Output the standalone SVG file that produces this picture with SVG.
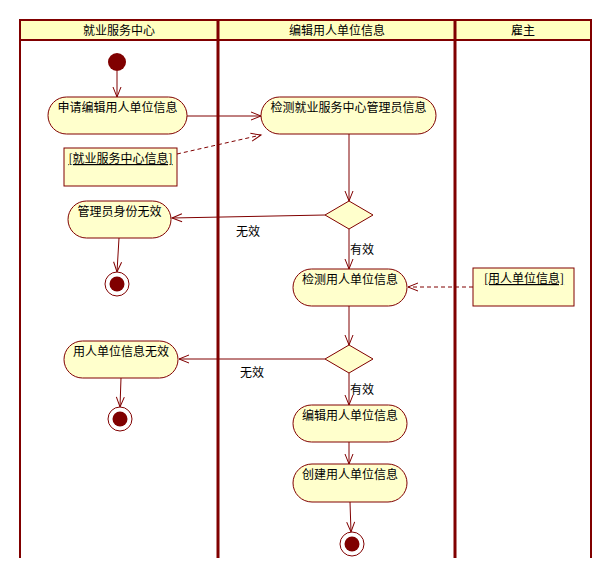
<svg xmlns="http://www.w3.org/2000/svg" width="612" height="577" viewBox="0 0 612 577">
  <style>
    text { font-family: "Noto Sans CJK SC", "Noto Sans", sans-serif; font-size: 12px; fill: #000; }
    .lane { stroke: #800000; stroke-width: 3; }
    .edge { stroke: #800000; stroke-width: 2; }
    .act { fill: #ffffcc; stroke: #800000; stroke-width: 1; }
    .note { fill: #ffffcc; stroke: #800000; stroke-width: 1; }
    .flow { fill: none; stroke: #800000; stroke-width: 1; marker-end: url(#arrow); }
    .dash { stroke-dasharray: 4 3; }
    .mid { text-anchor: middle; }
    .u { text-decoration: underline; }
  </style>
  <defs>
    <marker id="arrow" markerUnits="userSpaceOnUse" markerWidth="14" markerHeight="12" refX="11" refY="5" orient="auto">
      <path d="M1,1 L11,5 L1,9" fill="none" stroke="#800000" stroke-width="1"/>
    </marker>
  </defs>

  <!-- swimlane frame -->
  <g id="swimlanes">
    <rect x="20" y="20" width="571" height="20" fill="#ffffc0"/>
    <line class="edge" x1="20" y1="20" x2="591" y2="20"/>
    <line class="edge" x1="20" y1="40" x2="591" y2="40"/>
    <line class="edge" x1="20" y1="19" x2="20" y2="558"/>
    <line class="lane" x1="218" y1="19" x2="218" y2="558"/>
    <line class="lane" x1="455" y1="19" x2="455" y2="558"/>
    <line class="edge" x1="591" y1="19" x2="591" y2="558"/>
    <text class="mid" x="119" y="35">就业服务中心</text>
    <text class="mid" x="337" y="35">编辑用人单位信息</text>
    <text class="mid" x="523" y="35">雇主</text>
  </g>

  <!-- connectors -->
  <g id="connectors">
    <line class="flow" x1="117" y1="71" x2="117" y2="97"/>
    <line class="flow" x1="187" y1="116" x2="261" y2="116"/>
    <line class="flow dash" x1="177" y1="154" x2="261" y2="135"/>
    <line class="flow" x1="349" y1="134" x2="349" y2="201"/>
    <line class="flow" x1="325" y1="215" x2="172" y2="218"/>
    <line class="flow" x1="349" y1="229" x2="349" y2="269"/>
    <line class="flow" x1="119" y1="238" x2="117" y2="272"/>
    <line class="flow dash" x1="473" y1="287" x2="408" y2="287"/>
    <line class="flow" x1="349" y1="306" x2="349" y2="345"/>
    <line class="flow" x1="325" y1="359" x2="179" y2="359"/>
    <line class="flow" x1="349" y1="373" x2="349" y2="405"/>
    <line class="flow" x1="121" y1="378" x2="120" y2="407"/>
    <line class="flow" x1="349" y1="442" x2="349" y2="464"/>
    <line class="flow" x1="350" y1="502" x2="351" y2="532"/>
    <text x="236" y="236">无效</text>
    <text x="350" y="254">有效</text>
    <text x="240" y="377">无效</text>
    <text x="350" y="394">有效</text>
  </g>

  <!-- start -->
  <g id="start">
    <circle cx="117" cy="62" r="9" fill="#800000"/>
  </g>

  <!-- actions -->
  <g id="apply-edit">
    <rect class="act" x="48" y="97" width="139" height="37" rx="18.5"/>
    <text class="mid" x="117.5" y="112">申请编辑用人单位信息</text>
  </g>
  <g id="check-admin">
    <rect class="act" x="261" y="97" width="175" height="37" rx="18.5"/>
    <text class="mid" x="348.5" y="112">检测就业服务中心管理员信息</text>
  </g>
  <g id="center-info">
    <rect class="note" x="64" y="148" width="113" height="38"/>
    <text class="mid u" x="120.5" y="163">[就业服务中心信息]</text>
  </g>
  <g id="decision-admin">
    <polygon points="349,201 373,215 349,229 325,215" fill="#ffffcc" stroke="#800000" stroke-width="1"/>
  </g>
  <g id="admin-invalid">
    <rect class="act" x="68" y="201" width="103" height="37" rx="18.5"/>
    <text class="mid" x="119.5" y="216">管理员身份无效</text>
  </g>
  <g id="end-admin">
    <circle cx="117" cy="284" r="12" fill="#fff" stroke="#800000" stroke-width="1"/>
    <circle cx="117" cy="284" r="7.5" fill="#800000"/>
  </g>
  <g id="check-employer">
    <rect class="act" x="293" y="269" width="114" height="37" rx="18.5"/>
    <text class="mid" x="350" y="284">检测用人单位信息</text>
  </g>
  <g id="employer-info">
    <rect class="note" x="473" y="268" width="101" height="38"/>
    <text class="mid u" x="524" y="283">[用人单位信息]</text>
  </g>
  <g id="decision-employer">
    <polygon points="349,345 373,359 349,373 325,359" fill="#ffffcc" stroke="#800000" stroke-width="1"/>
  </g>
  <g id="employer-invalid">
    <rect class="act" x="64" y="341" width="114" height="37" rx="18.5"/>
    <text class="mid" x="121" y="356">用人单位信息无效</text>
  </g>
  <g id="end-employer">
    <circle cx="120" cy="419" r="12" fill="#fff" stroke="#800000" stroke-width="1"/>
    <circle cx="120" cy="419" r="7.5" fill="#800000"/>
  </g>
  <g id="edit-employer">
    <rect class="act" x="293" y="405" width="114" height="37" rx="18.5"/>
    <text class="mid" x="350" y="420">编辑用人单位信息</text>
  </g>
  <g id="create-employer">
    <rect class="act" x="293" y="464" width="114" height="38" rx="19"/>
    <text class="mid" x="350" y="479">创建用人单位信息</text>
  </g>
  <g id="end-create">
    <circle cx="352" cy="544" r="12" fill="#fff" stroke="#800000" stroke-width="1"/>
    <circle cx="352" cy="544" r="7.5" fill="#800000"/>
  </g>
</svg>
